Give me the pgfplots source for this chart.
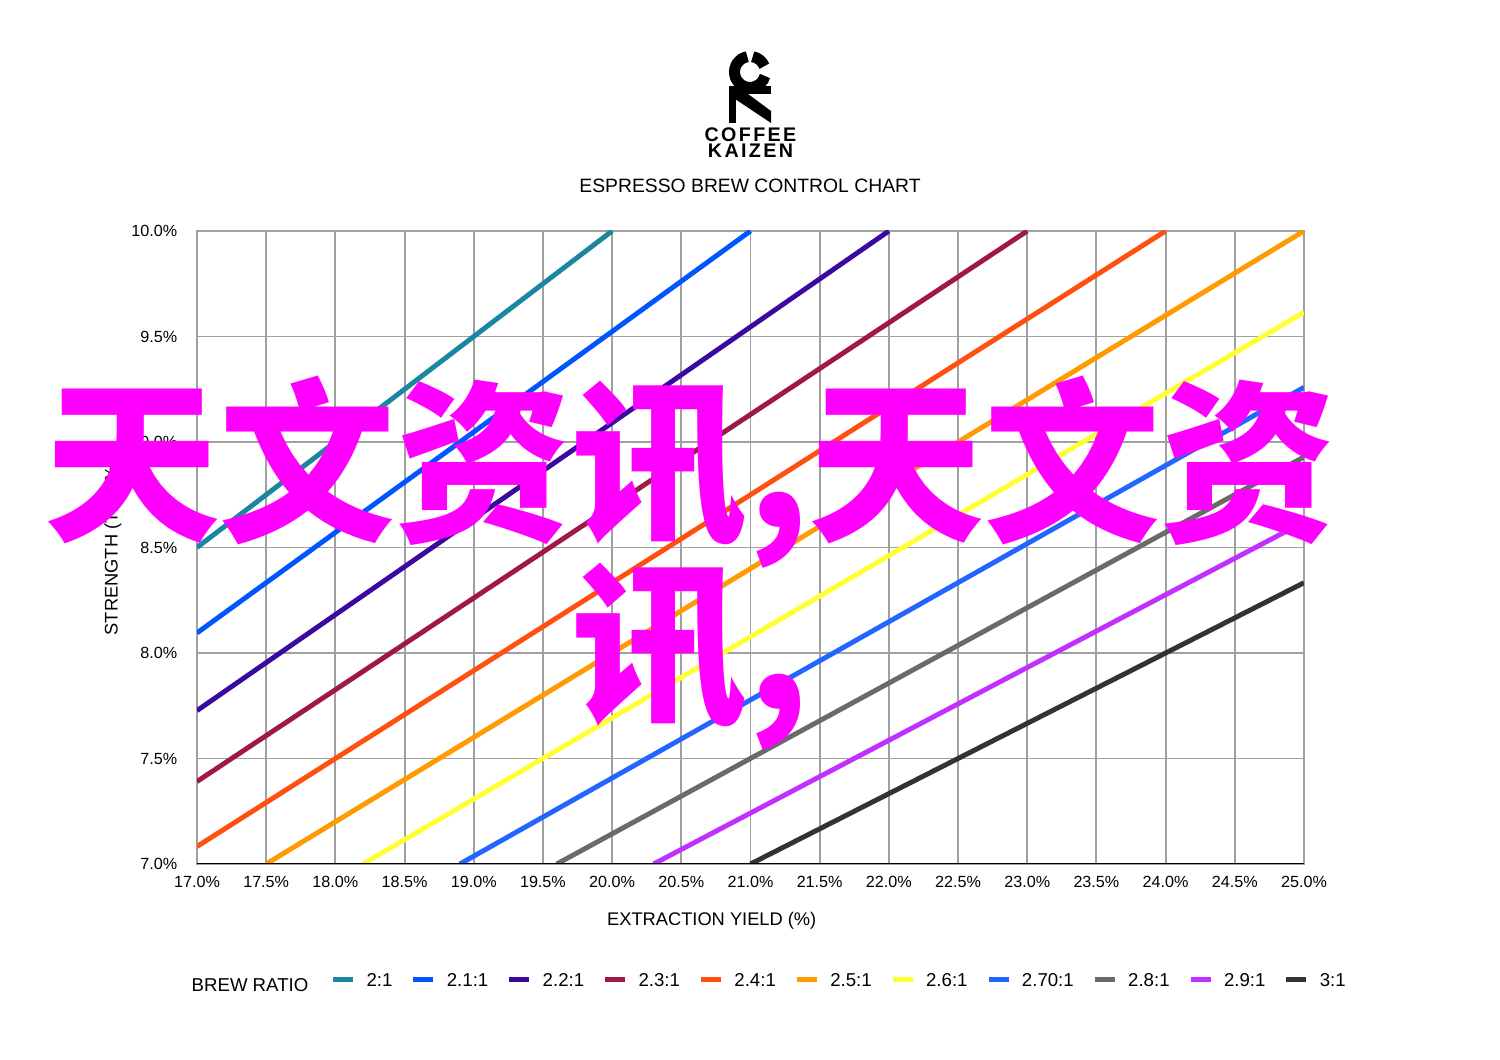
\documentclass[border=0pt]{standalone}
\usepackage{fontspec}
\setmainfont{Liberation Sans}
\newfontfamily\cjk{Noto Sans CJK SC}
\usepackage{pgfplots}
\pgfplotsset{compat=1.18}
\definecolor{cA}{HTML}{1A86A0}
\definecolor{cB}{HTML}{0055FF}
\definecolor{cC}{HTML}{3A0AA0}
\definecolor{cD}{HTML}{A0184A}
\definecolor{cE}{HTML}{FF5010}
\definecolor{cF}{HTML}{FF9A00}
\definecolor{cG}{HTML}{FFFF33}
\definecolor{cH}{HTML}{2266FF}
\definecolor{cI}{HTML}{6A6A6A}
\definecolor{cJ}{HTML}{C030FF}
\definecolor{cK}{HTML}{333333}
\definecolor{gridc}{HTML}{A0A0A0}
\definecolor{wm}{HTML}{FF00FF}
\begin{document}
\begin{tikzpicture}
\useasboundingbox (0,0) rectangle (15,10.6);
% logo
\draw[black, line width=0.11cm] (7.50,9.88) ++(100:0.155) arc (100:345:0.155);
\draw[black, line width=0.11cm] (7.50,9.88) ++(22:0.155) arc (22:80:0.155);
\fill[black] (7.29,9.66) rectangle (7.71,9.74);
\fill[black] (7.29,9.37) rectangle (7.36,9.66);
\fill[black] (7.35,9.66) -- (7.48,9.66) -- (7.71,9.49) -- (7.71,9.37) -- (7.35,9.61) -- cycle;
\node[font=\fontsize{5.6pt}{6pt}\selectfont\bfseries\addfontfeatures{LetterSpace=12}] at (7.505,9.25) {COFFEE};
\node[font=\fontsize{5.6pt}{6pt}\selectfont\bfseries\addfontfeatures{LetterSpace=12}] at (7.505,9.09) {KAIZEN};
\node[font=\fontsize{5.5pt}{6pt}\selectfont] at (7.50,8.74) {ESPRESSO BREW CONTROL CHART};
\node[font=\fontsize{5.3pt}{6pt}\selectfont, anchor=west, inner sep=0pt] at (1.91,0.75) {BREW RATIO};
\begin{axis}[
  at={(1.97cm,1.96cm)}, anchor=south west,
  width=11.07cm, height=6.33cm, scale only axis,
  xmin=17, xmax=25, ymin=7, ymax=10,
  xtick={17,17.5,...,25}, ytick={7,7.5,...,10},
  xticklabels={17.0\%,17.5\%,18.0\%,18.5\%,19.0\%,19.5\%,20.0\%,20.5\%,21.0\%,21.5\%,22.0\%,22.5\%,23.0\%,23.5\%,24.0\%,24.5\%,25.0\%},
  yticklabels={7.0\%,7.5\%,8.0\%,8.5\%,9.0\%,9.5\%,10.0\%},
  major tick length=0pt,
  grid=major, grid style={gridc, line width=0.55pt},
  axis line style={gridc, line width=0.55pt},
  tick label style={font=\fontsize{4.6pt}{5pt}\selectfont, inner sep=0pt},
  yticklabel style={anchor=east, xshift=-0.19cm},
  xticklabel style={anchor=north, yshift=-0.12cm},
  xlabel={EXTRACTION YIELD (\%)}, ylabel={STRENGTH (TDS \%)},
  label style={font=\fontsize{5.2pt}{6pt}\selectfont},
  xlabel style={at={(axis description cs:0.465,-0.090)}, anchor=center},
  ylabel style={at={(axis description cs:-0.076,0.5)}, anchor=center},
  legend columns=11,
  legend image code/.code={\draw[#1, line width=1.4pt] (0cm,0.03cm) -- (0.2cm,0.03cm);},
  legend style={at={(axis description cs:0.1201,-0.1875)}, anchor=west, draw=none, fill=none,
    inner sep=0pt, font=\fontsize{5.3pt}{6pt}\selectfont, column sep=0.11cm,
    nodes={inner sep=0pt},
    /tikz/every even column/.append style={column sep=0.185cm}},
  clip=true,
]
\addplot[cA, line width=1.4pt] coordinates {(17,8.5) (20,10)};
\addlegendentry{2:1}
\addplot[cB, line width=1.4pt] coordinates {(17,8.095) (21,10)};
\addlegendentry{2.1:1}
\addplot[cC, line width=1.4pt] coordinates {(17,7.727) (22,10)};
\addlegendentry{2.2:1}
\addplot[cD, line width=1.4pt] coordinates {(17,7.391) (23,10)};
\addlegendentry{2.3:1}
\addplot[cE, line width=1.4pt] coordinates {(17,7.083) (24,10)};
\addlegendentry{2.4:1}
\addplot[cF, line width=1.4pt] coordinates {(17.5,7.0) (25,10)};
\addlegendentry{2.5:1}
\addplot[cG, line width=1.4pt] coordinates {(18.2,7.0) (25,9.615)};
\addlegendentry{2.6:1}
\addplot[cH, line width=1.4pt] coordinates {(18.9,7.0) (25,9.259)};
\addlegendentry{2.70:1}
\addplot[cI, line width=1.4pt] coordinates {(19.6,7.0) (25,8.929)};
\addlegendentry{2.8:1}
\addplot[cJ, line width=1.4pt] coordinates {(20.3,7.0) (25,8.621)};
\addlegendentry{2.9:1}
\addplot[cK, line width=1.4pt] coordinates {(21,7.0) (25,8.333)};
\addlegendentry{3:1}
\draw[black, line width=0.6pt] (rel axis cs:0,0) -- (rel axis cs:1,0);
\end{axis}
% watermark
\node[text=wm, font=\fontsize{50pt}{50pt}\selectfont\cjk\bfseries, inner sep=0pt] at (6.90,5.88) {天文资讯,天文资};
\node[text=wm, font=\fontsize{50pt}{50pt}\selectfont\cjk\bfseries, inner sep=0pt] at (6.90,4.03) {讯,};
\end{tikzpicture}
\end{document}
